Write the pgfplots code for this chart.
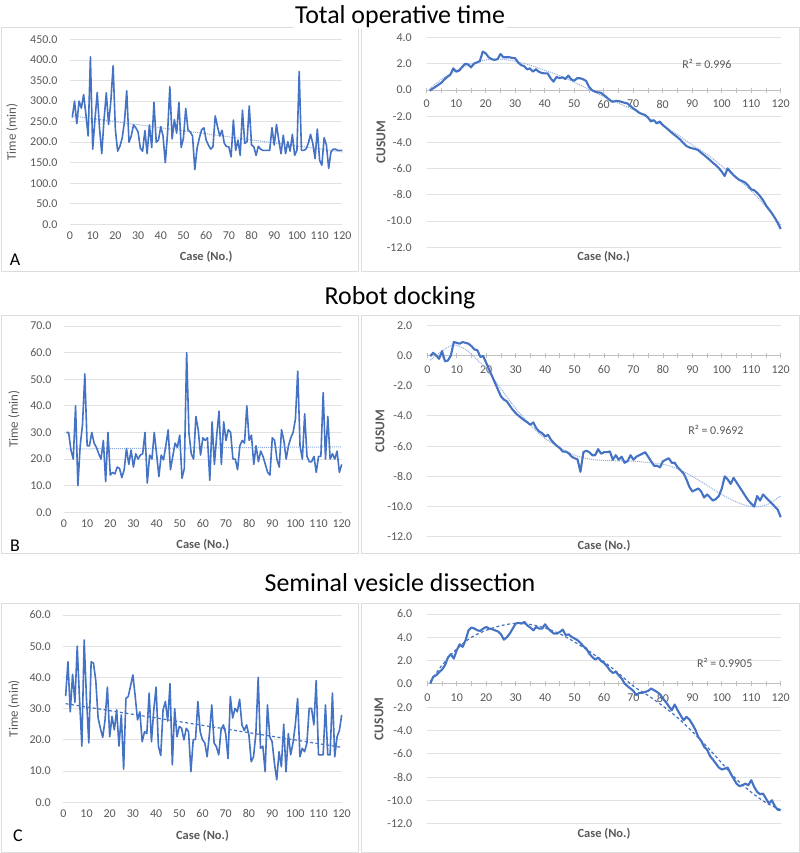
\documentclass[border=0pt]{standalone}
\usepackage{pgfplots}
\pgfplotsset{compat=1.18}
\usepackage{fontspec}
\setmainfont{Carlito}
\definecolor{xblue}{HTML}{4472C4}
\definecolor{tblue}{HTML}{8FAADC}
\definecolor{gridgray}{HTML}{E2E2E2}
\definecolor{labgray}{HTML}{595959}
\definecolor{axgray}{HTML}{BFBFBF}
\definecolor{boxgray}{HTML}{DDDDDD}
\pgfplotsset{
 cbase/.style={
   scale only axis, anchor=south west, clip=false,
   xmin=0, xmax=120, xtick={0,10,...,120},
   /pgf/number format/assume math mode=true,
   tick label style={font=\fontsize{12}{12}\selectfont, text=labgray},
   y tick label style={/pgf/number format/fixed, /pgf/number format/fixed zerofill, /pgf/number format/precision=1, /pgf/number format/1000 sep={}, xshift=-9bp},
   x tick label style={yshift=-4bp},
   ymajorgrids, major grid style={draw=gridgray, line width=0.9bp},
 },
 cleft/.style={cbase, axis line style={draw=none}, tick style={draw=none}},
 cright/.style={cbase, axis x line=middle, axis y line=left,
   x axis line style={-, draw=axgray, line width=0.9bp}, y axis line style={draw=none},
   ytick style={draw=none}, xtick style={draw=axgray, line width=0.8bp},
   minor x tick num=1, xtick align=center, major tick length=5bp, minor tick length=5bp,
   hide obscured x ticks=false, hide obscured y ticks=false},
 series/.style={xblue, line width=1.6bp, line join=round},
 cseries/.style={xblue, line width=2.1bp, line join=round},
 dtrend/.style={tblue, line width=1bp, densely dotted},
 dashtrend/.style={xblue, line width=1.2bp, dash pattern=on 3bp off 2.5bp},
}
\newcommand{\ylab}[2]{\node[rotate=90, font=\fontsize{13}{13}\selectfont, text=labgray] at (axis description cs:#1,0.5) {#2};}
\newcommand{\ylabc}[1]{\node[rotate=90, font=\bfseries\fontsize{13.5}{13.5}\selectfont, text=labgray] at (axis description cs:#1,0.5) {CUSUM};}
\newcommand{\xlab}[1]{\node[font=\bfseries\fontsize{12.5}{12.5}\selectfont, text=labgray] at (axis description cs:0.5,#1) {Case (No.)};}
\begin{document}
\begin{tikzpicture}
\useasboundingbox (0bp,0bp) rectangle (800bp,853bp);
\fill[white] (0bp,0bp) rectangle (800bp,853bp);
% frames
\draw[boxgray, line width=0.8bp] (1bp,582bp) rectangle (358bp,826bp);
\draw[boxgray, line width=0.8bp] (361bp,582bp) rectangle (799bp,826bp);
\draw[boxgray, line width=0.8bp] (1bp,300bp) rectangle (358bp,538bp);
\draw[boxgray, line width=0.8bp] (361bp,300bp) rectangle (799bp,538bp);
\draw[boxgray, line width=0.8bp] (1bp,1bp) rectangle (358bp,250bp);
\draw[boxgray, line width=0.8bp] (361bp,1bp) rectangle (799bp,250bp);
% titles
\node[anchor=base, font=\fontsize{26}{26}\selectfont, fill=white, inner sep=1bp] at (400bp,829bp) {Total operative time};
\node[anchor=base, font=\fontsize{26}{26}\selectfont] at (400bp,548bp) {Robot docking};
\node[anchor=base, font=\fontsize{26}{26}\selectfont] at (400bp,261.3bp) {Seminal vesicle dissection};
\node[font=\fontsize{18}{18}\selectfont] at (15bp,593bp) {A};
\node[font=\fontsize{18}{18}\selectfont] at (15bp,307bp) {B};
\node[font=\fontsize{18}{18}\selectfont] at (18bp,17bp) {C};

% ---------------- A left
\begin{axis}[cleft, at={(70bp,628.7bp)}, width=272.3bp, height=184.8bp,
  ymin=0, ymax=450, ytick={0,50,...,450}]
\addplot[dtrend] coordinates {(1,264) (120,176)};
\addplot[series] coordinates {
(1,260) (2,300) (3,245) (4,300) (5,283) (6,316) (7,268) (8,215) (9,408) (10,183)
(11,255) (12,321) (13,235) (14,172) (15,255) (16,320) (17,243) (18,300) (19,386) (20,230)
(21,178) (22,190) (23,210) (24,250) (25,325) (26,200) (27,215) (28,242) (29,235) (30,225)
(31,185) (32,178) (33,228) (34,172) (35,242) (36,187) (37,297) (38,200) (39,205) (40,238)
(41,215) (42,150) (43,222) (44,335) (45,208) (46,255) (47,222) (48,297) (49,187) (50,210)
(51,282) (52,230) (53,225) (54,215) (55,133) (56,185) (57,210) (58,230) (59,235) (60,205)
(61,193) (62,183) (63,189) (64,264) (65,238) (66,215) (67,229) (68,197) (69,189) (70,189)
(71,164) (72,254) (73,180) (74,205) (75,168) (76,278) (77,197) (78,201) (79,288) (80,193)
(81,189) (82,168) (83,190) (84,183) (85,180) (86,180) (87,180) (88,180) (89,235) (90,193)
(91,243) (92,205) (93,172) (94,217) (95,172) (96,201) (97,178) (98,219) (99,168) (100,180)
(101,372) (102,180) (103,180) (104,183) (105,197) (106,219) (107,197) (108,160) (109,232) (110,156)
(111,144) (112,211) (113,193) (114,136) (115,176) (116,183) (117,183) (118,180) (119,180) (120,180)};
\ylab{-0.213}{Time (min)}
\xlab{-0.177}
\end{axis}

% ---------------- A right
\begin{axis}[cright, at={(426.7bp,605.7bp)}, width=354bp, height=209.7bp,
  ymin=-12, ymax=4, ytick={-12,-10,...,4}]
\addplot[dtrend, smooth] coordinates {(1,0.1) (5,0.8) (10,1.5) (15,2.0) (20,2.3) (25,2.35) (30,2.2) (35,1.9) (40,1.5) (45,1.1) (50,0.6) (55,0.05) (60,-0.5) (65,-1.0) (70,-1.5) (75,-2.1) (80,-2.7) (85,-3.4) (90,-4.2) (95,-4.9) (100,-5.8) (105,-6.7) (110,-7.7) (115,-8.9) (120,-10.3)};
\addplot[cseries] coordinates {
(1,-0.05) (2,0.1) (3,0.25) (4,0.4) (5,0.56) (6,0.8) (7,1.0) (8,1.17) (9,1.65) (10,1.4)
(11,1.48) (12,1.75) (13,2.0) (14,1.96) (15,1.73) (16,2.0) (17,2.1) (18,2.2) (19,2.93) (20,2.8)
(21,2.5) (22,2.35) (23,2.3) (24,2.35) (25,2.75) (26,2.5) (27,2.5) (28,2.5) (29,2.45) (30,2.42)
(31,2.1) (32,1.9) (33,1.83) (34,1.58) (35,1.65) (36,1.4) (37,1.58) (38,1.4) (39,1.3) (40,1.27)
(41,1.27) (42,0.9) (43,0.64) (44,1.0) (45,0.9) (46,0.97) (47,0.84) (48,1.1) (49,0.82) (50,0.71)
(51,0.9) (52,0.9) (53,0.82) (54,0.7) (55,0.25) (56,0.0) (57,-0.12) (58,-0.18) (59,-0.2) (60,-0.38)
(61,-0.56) (62,-0.76) (63,-0.9) (64,-0.84) (65,-0.84) (66,-0.9) (67,-0.97) (68,-1.02) (69,-1.2) (70,-1.4)
(71,-1.55) (72,-1.73) (73,-1.83) (74,-1.9) (75,-2.1) (76,-2.4) (77,-2.3) (78,-2.55) (79,-2.4) (80,-2.67)
(81,-2.85) (82,-3.05) (83,-3.25) (84,-3.43) (85,-3.6) (86,-3.8) (87,-4.05) (88,-4.27) (89,-4.38) (90,-4.45)
(91,-4.5) (92,-4.58) (93,-4.78) (94,-4.96) (95,-5.15) (96,-5.34) (97,-5.55) (98,-5.73) (99,-5.95) (100,-6.23)
(101,-6.56) (102,-5.98) (103,-6.25) (104,-6.49) (105,-6.7) (106,-6.87) (107,-6.95) (108,-7.07) (109,-7.3) (110,-7.58)
(111,-7.65) (112,-7.84) (113,-8.1) (114,-8.4) (115,-8.8) (116,-9.1) (117,-9.4) (118,-9.75) (119,-10.15) (120,-10.6)};
\node[font=\fontsize{12}{12}\selectfont, text=labgray] at (axis cs:95,2.0) {R² = 0.996};
\ylabc{-0.129}
\xlab{-0.046}
\end{axis}

% ---------------- B left
\begin{axis}[cleft, at={(64bp,340.7bp)}, width=277.7bp, height=186.3bp,
  ymin=0, ymax=70, ytick={0,10,...,70}]
\addplot[dtrend] coordinates {(1,23.8) (120,24.6)};
\addplot[series] coordinates {
(1,30) (2,30) (3,23.4) (4,20) (5,40) (6,10) (7,25) (8,33) (9,52) (10,25)
(11,25) (12,30) (13,26) (14,24.4) (15,22) (16,20) (17,27) (18,11.5) (19,30) (20,14)
(21,15) (22,14.4) (23,17) (24,16.5) (25,13) (26,16) (27,24) (28,18) (29,23.4) (30,17)
(31,22) (32,20) (33,21.5) (34,22) (35,30) (36,11) (37,21.5) (38,20) (39,30) (40,22)
(41,13.4) (42,21.5) (43,19.7) (44,25) (45,31) (46,16) (47,21) (48,26) (49,24.4) (50,29)
(51,12.8) (52,16.5) (53,60) (54,29.7) (55,22) (56,20) (57,36) (58,31) (59,21.5) (60,28)
(61,27) (62,28) (63,12) (64,34) (65,18) (66,29) (67,38) (68,18) (69,34) (70,27)
(71,31) (72,30) (73,20) (74,20) (75,16) (76,25) (77,27) (78,26) (79,40) (80,27)
(81,29) (82,18) (83,25) (84,19) (85,23) (86,21) (87,18) (88,15) (89,14) (90,28)
(91,27) (92,20) (93,17) (94,31) (95,27) (96,20) (97,25) (98,28) (99,30) (100,35)
(101,53) (102,25) (103,20) (104,37) (105,21) (106,19) (107,19) (108,21) (109,15) (110,21)
(111,21) (112,45) (113,20) (114,36) (115,20) (116,22) (117,20) (118,23) (119,15) (120,18)};
\ylab{-0.18}{Time (min)}
\xlab{-0.176}
\end{axis}

% ---------------- B right
\begin{axis}[cright, at={(427.3bp,316.2bp)}, width=353.4bp, height=211.5bp,
  ymin=-12, ymax=2, ytick={-12,-10,...,2}]
\addplot[dtrend, smooth] coordinates {(1,-0.3) (5,0.3) (9,0.7) (13,0.4) (17,-0.3) (20,-0.9) (25,-2.2) (30,-3.5) (35,-4.6) (40,-5.5) (45,-6.1) (50,-6.6) (55,-6.85) (60,-6.95) (70,-7.0) (80,-7.2) (85,-7.5) (90,-8.0) (95,-8.6) (100,-9.2) (105,-9.7) (110,-10.0) (115,-9.9) (120,-9.3)};
\addplot[cseries] coordinates {
(1,-0.04) (2,0.18) (3,0.0) (4,-0.22) (5,0.29) (6,-0.38) (7,-0.33) (8,0.0) (9,0.89) (10,0.84)
(11,0.78) (12,0.89) (13,0.84) (14,0.78) (15,0.62) (16,0.4) (17,0.35) (18,-0.09) (19,-0.04) (20,-0.49)
(21,-0.93) (22,-1.37) (23,-1.82) (24,-2.26) (25,-2.7) (26,-2.92) (27,-3.03) (28,-3.32) (29,-3.59) (30,-3.81)
(31,-3.99) (32,-4.14) (33,-4.3) (34,-4.43) (35,-4.58) (36,-4.43) (37,-4.81) (38,-5.03) (39,-5.14) (40,-5.36)
(41,-5.25) (42,-5.58) (43,-5.8) (44,-5.98) (45,-6.13) (46,-6.36) (47,-6.36) (48,-6.47) (49,-6.69) (50,-6.8)
(51,-6.87) (52,-7.7) (53,-6.4) (54,-6.3) (55,-6.4) (56,-6.6) (57,-6.6) (58,-6.2) (59,-6.5) (60,-6.4)
(61,-6.4) (62,-6.35) (63,-6.9) (64,-6.6) (65,-6.9) (66,-6.7) (67,-7.1) (68,-7.0) (69,-6.6) (70,-6.9)
(71,-6.7) (72,-6.6) (73,-6.5) (74,-6.4) (75,-6.7) (76,-7.0) (77,-7.3) (78,-7.3) (79,-7.4) (80,-7.0)
(81,-6.9) (82,-6.8) (83,-7.1) (84,-7.1) (85,-7.4) (86,-7.6) (87,-7.8) (88,-8.2) (89,-8.7) (90,-9.0)
(91,-8.9) (92,-8.8) (93,-9.0) (94,-9.4) (95,-9.2) (96,-9.4) (97,-9.6) (98,-9.5) (99,-9.3) (100,-8.8)
(101,-8.0) (102,-8.2) (103,-8.5) (104,-8.1) (105,-8.4) (106,-8.7) (107,-9.0) (108,-9.3) (109,-9.6) (110,-9.8)
(111,-10.0) (112,-9.3) (113,-9.6) (114,-9.2) (115,-9.4) (116,-9.6) (117,-9.8) (118,-10.0) (119,-10.2) (120,-10.7)};
\node[font=\fontsize{12}{12}\selectfont, text=labgray] at (axis cs:98,-4.9) {R² = 0.9692};
\ylabc{-0.134}
\xlab{-0.0435}
\end{axis}

% ---------------- C left
\begin{axis}[cleft, at={(63.3bp,50.7bp)}, width=278.4bp, height=187.3bp,
  ymin=0, ymax=60, ytick={0,10,...,60}]
\addplot[dashtrend] coordinates {(1,31.6) (120,17.6)};
\addplot[series] coordinates {
(1,34) (2,45) (3,29) (4,41) (5,32) (6,50) (7,33) (8,18) (9,52) (10,33)
(11,19) (12,45) (13,44.6) (14,39) (15,27) (16,23.7) (17,20.8) (18,26.4) (19,36.9) (20,21)
(21,27.5) (22,23.2) (23,29.6) (24,18) (25,28) (26,10.6) (27,33.3) (28,33.9) (29,37.3) (30,40.8)
(31,33.9) (32,26.4) (33,29) (34,19.4) (35,22.6) (36,22) (37,35) (38,19.4) (39,29.6) (40,36.9)
(41,18) (42,15) (43,29.6) (44,32.3) (45,26) (46,38) (47,12) (48,30) (49,21) (50,24.3)
(51,23.7) (52,20) (53,23.7) (54,22.6) (55,9.8) (56,20) (57,20.2) (58,32.3) (59,22.6) (60,20)
(61,19) (62,14.6) (63,22) (64,31.2) (65,19) (66,17.8) (67,15.2) (68,23.2) (69,24.8) (70,22)
(71,14) (72,33.9) (73,27) (74,30.1) (75,29) (76,33) (77,24.8) (78,23) (79,24.8) (80,21.6)
(81,13) (82,14.6) (83,22) (84,40) (85,17.3) (86,18) (87,9.8) (88,31.2) (89,21) (90,19.4)
(91,12.5) (92,7.2) (93,16.2) (94,11.4) (95,25) (96,9.8) (97,22) (98,15.2) (99,19) (100,24.8)
(101,33.3) (102,14.6) (103,17.3) (104,16.2) (105,19) (106,30.1) (107,30.1) (108,24.8) (109,39) (110,15.2)
(111,15.2) (112,15.2) (113,31.2) (114,15.2) (115,15.2) (116,35) (117,14.6) (118,21) (119,23) (120,28)};
\ylab{-0.177}{Time (min)}
\xlab{-0.18}
\end{axis}

% ---------------- C right
\begin{axis}[cright, at={(427.3bp,29.3bp)}, width=353.4bp, height=209.7bp,
  ymin=-12, ymax=6, ytick={-12,-10,...,6}]
\addplot[dashtrend, smooth] coordinates {(1,0.2) (5,1.6) (10,3.0) (15,4.0) (20,4.6) (25,5.0) (30,5.2) (35,5.1) (40,4.8) (45,4.3) (50,3.6) (55,2.8) (60,1.9) (65,0.9) (70,-0.2) (75,-1.0) (80,-1.9) (85,-2.9) (90,-4.1) (95,-5.4) (100,-6.8) (105,-8.2) (110,-9.3) (115,-10.2) (120,-10.8)};
\addplot[cseries] coordinates {
(1,0.03) (2,0.6) (3,0.74) (4,1.0) (5,1.23) (6,1.6) (7,2.26) (8,2.55) (9,2.17) (10,2.9)
(11,3.4) (12,3.18) (13,3.75) (14,4.6) (15,4.84) (16,4.75) (17,4.6) (18,4.55) (19,4.75) (20,4.89)
(21,4.75) (22,4.7) (23,4.6) (24,4.5) (25,4.26) (26,3.8) (27,4.0) (28,4.32) (29,4.75) (30,5.18)
(31,5.24) (32,5.18) (33,5.32) (34,5.0) (35,4.84) (36,4.6) (37,4.89) (38,4.75) (39,4.75) (40,5.12)
(41,4.75) (42,4.52) (43,4.32) (44,4.32) (45,4.46) (46,4.66) (47,4.18) (48,4.26) (49,4.03) (50,3.9)
(51,3.75) (52,3.52) (53,3.23) (54,3.03) (55,2.6) (56,2.32) (57,2.09) (58,2.26) (59,1.97) (60,1.8)
(61,1.52) (62,1.17) (63,0.94) (64,1.03) (65,0.74) (66,0.46) (67,0.03) (68,-0.2) (69,-0.4) (70,-0.6)
(71,-0.97) (72,-0.77) (73,-0.77) (74,-0.69) (75,-0.6) (76,-0.4) (77,-0.54) (78,-0.69) (79,-0.89) (80,-1.26)
(81,-1.55) (82,-1.92) (83,-2.26) (84,-1.77) (85,-2.26) (86,-2.69) (87,-3.12) (88,-2.83) (89,-3.06) (90,-3.46)
(91,-3.92) (92,-4.55) (93,-4.9) (94,-5.4) (95,-5.64) (96,-6.2) (97,-6.5) (98,-6.84) (99,-7.18) (100,-7.35)
(101,-7.27) (102,-7.18) (103,-7.7) (104,-8.13) (105,-8.56) (106,-8.78) (107,-8.7) (108,-8.56) (109,-8.7) (110,-8.27)
(111,-8.84) (112,-9.27) (113,-9.47) (114,-9.41) (115,-9.84) (116,-10.27) (117,-9.99) (118,-10.5) (119,-10.8) (120,-10.84)};
\node[font=\fontsize{12}{12}\selectfont, text=labgray] at (axis cs:101,1.8) {R² = 0.9905};
\ylabc{-0.137}
\xlab{-0.049}
\end{axis}
\end{tikzpicture}
\end{document}
